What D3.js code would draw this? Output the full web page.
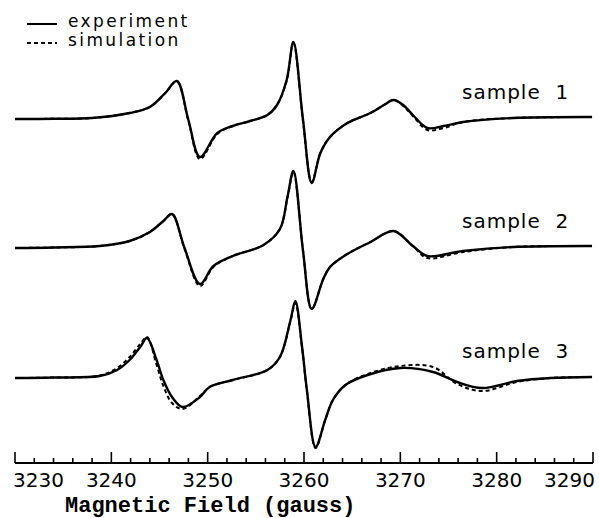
<!DOCTYPE html>
<html>
<head>
<meta charset="utf-8">
<script src="https://d3js.org/d3.v7.min.js"></script>
<style>
  body { margin: 0; background: #fff; }
  svg { display: block; }
</style>
</head>
<body>
<div id="chart"></div>
<script>
// field positions (gauss) and derivative intensity (arb. units, baseline = 0)
const field1 = [3230, 3234, 3238, 3241.9, 3244.0, 3245.6, 3246.8, 3248.0, 3249.2, 3251.0, 3252.6, 3254.4, 3256.2, 3257.2, 3258.2, 3258.9, 3259.9, 3260.8, 3261.7, 3262.7, 3264.5, 3266.9, 3268.3, 3269.3, 3270.3, 3271.3, 3272.8, 3274.5, 3276.5, 3281.7, 3289.9];
const exp1 = [0, 0.02, 0.1, 0.6, 1.2, 2.6, 3.8, -0.1, -3.8, -1.4, -0.7, -0.2, 0.4, 1.4, 3.9, 7.7, -0.1, -6.4, -3.4, -1.8, -0.4, 0.6, 1.4, 1.9, 1.4, 0.4, -0.9, -0.7, -0.3, 0.1, 0.2];
const sim1 = [0, 0.02, 0.1, 0.6, 1.2, 2.6, 3.8, -0.2, -4.0, -1.5, -0.7, -0.2, 0.4, 1.4, 3.8, 7.6, -0.2, -6.3, -3.4, -1.8, -0.4, 0.6, 1.4, 1.9, 1.3, 0.3, -1.1, -0.9, -0.3, 0.1, 0.2];

const field2 = [3230, 3234, 3238.8, 3241.9, 3244.0, 3245.4, 3246.3, 3247.6, 3249.2, 3250.6, 3252.6, 3255.8, 3257.5, 3258.3, 3258.9, 3259.9, 3260.8, 3262.0, 3262.7, 3264.5, 3266.9, 3269.3, 3271.3, 3272.8, 3276.5, 3281.7, 3289.9];
const exp2 = [0, 0.05, 0.2, 0.7, 1.6, 2.7, 3.4, 0.0, -3.6, -1.8, -0.8, 0.3, 1.9, 5.2, 7.7, -0.3, -6.1, -3.1, -1.9, -0.6, 0.6, 1.7, 0.2, -0.8, -0.3, 0.1, 0.2];
const sim2 = [0, 0.05, 0.2, 0.7, 1.6, 2.7, 3.4, -0.1, -3.8, -1.9, -0.8, 0.3, 1.9, 5.1, 7.6, -0.3, -6.1, -3.1, -1.9, -0.6, 0.6, 1.7, 0.2, -1.0, -0.4, 0.1, 0.2];

const field3 = [3230, 3234, 3238.8, 3240.6, 3241.9, 3243.0, 3243.7, 3244.7, 3245.4, 3246.3, 3247.4, 3249.2, 3250.2, 3252.6, 3256.2, 3257.5, 3258.6, 3259.1, 3259.8, 3260.3, 3261.2, 3262.2, 3263.0, 3264.3, 3266.6, 3270.0, 3273.4, 3275.9, 3278.5, 3282.1, 3285.6, 3289.9];
const exp3 = [0, 0.05, 0.2, 0.8, 1.8, 3.1, 4.0, 1.8, -0.2, -1.9, -2.9, -1.9, -0.9, -0.2, 0.8, 2.1, 5.8, 7.7, 3.1, -1.2, -6.9, -4.2, -2.2, -0.7, 0.3, 1.0, 0.6, -0.4, -1.0, -0.3, 0, 0.1];
const sim3 = [0, 0.05, 0.25, 1.0, 2.1, 3.4, 4.1, 1.3, -0.8, -2.5, -3.1, -1.8, -0.9, -0.2, 0.8, 2.1, 5.7, 7.5, 3.0, -1.3, -7.0, -4.2, -2.2, -0.7, 0.4, 1.2, 1.1, -0.6, -1.3, -0.4, 0, 0.1];

const sampleNames = ["sample  1", "sample  2", "sample  3"];
const offsets = [34.1, 21.2, 8.2];
const tickValues = [3230, 3240, 3250, 3260, 3270, 3280, 3290];

const samples = [
  { field: field1, exp: exp1, sim: sim1 },
  { field: field2, exp: exp2, sim: sim2 },
  { field: field3, exp: exp3, sim: sim3 }
];

const width = 599, height = 518;
const axisY = 463;

const svg = d3.select("#chart")
  .append("svg")
  .attr("width", width)
  .attr("height", height);

const x = d3.scaleLinear().domain([3230, 3290]).range([15, 593]);
const y = d3.scaleLinear().domain([0, 46]).range([460, 0]);

samples.forEach((s, i) => {
  const line = d3.line()
    .x((d, j) => x(s.field[j]))
    .y(d => y(d + offsets[i]))
    .curve(d3.curveCatmullRom.alpha(0.5));

  svg.append("path")
    .attr("d", line(s.sim))
    .attr("fill", "none")
    .attr("stroke", "#000")
    .attr("stroke-width", 2)
    .attr("stroke-dasharray", "4,3");

  svg.append("path")
    .attr("d", line(s.exp))
    .attr("fill", "none")
    .attr("stroke", "#000")
    .attr("stroke-width", 2.4)
    .attr("stroke-linejoin", "round");

  svg.append("text")
    .attr("x", 462)
    .attr("y", y(offsets[i]) - 20)
    .attr("font-family", "DejaVu Sans")
    .attr("font-size", 20)
    .attr("letter-spacing", 1)
    .style("white-space", "pre")
    .text(sampleNames[i]);
});

// axis with inward ticks
const axis = svg.append("g").attr("transform", `translate(0,${axisY})`);
axis.append("line")
  .attr("x1", x(3230)).attr("x2", x(3290))
  .attr("stroke", "#000").attr("stroke-width", 2);

axis.selectAll("line.minor")
  .data(d3.range(3230, 3291, 2))
  .enter().append("line")
  .attr("class", "minor")
  .attr("x1", d => x(d)).attr("x2", d => x(d))
  .attr("y1", 0)
  .attr("y2", d => (d % 10 === 0 ? -11 : -5))
  .attr("stroke", "#000")
  .attr("stroke-width", 1.6);

axis.selectAll("text.tick")
  .data(tickValues)
  .enter().append("text")
  .attr("class", "tick")
  .attr("x", (d, i) => i === 0 ? x(d) - 2 : i === tickValues.length - 1 ? x(d) + 2 : x(d))
  .attr("y", 24)
  .attr("text-anchor", (d, i) => i === 0 ? "start" : i === tickValues.length - 1 ? "end" : "middle")
  .attr("font-family", "DejaVu Sans")
  .attr("font-size", 20)
  .text(d => d);

svg.append("text")
  .attr("x", 65)
  .attr("y", 512)
  .attr("font-family", "Liberation Mono")
  .attr("font-weight", "bold")
  .attr("font-size", 22)
  .text("Magnetic Field (gauss)");

// legend
const legend = [
  { label: "experiment", dash: null, y: 27 },
  { label: "simulation", dash: "4,3", y: 46 }
];
legend.forEach(l => {
  svg.append("line")
    .attr("x1", 27).attr("x2", 57)
    .attr("y1", l.y - 3).attr("y2", l.y - 3)
    .attr("stroke", "#000")
    .attr("stroke-width", 2)
    .attr("stroke-dasharray", l.dash);
  svg.append("text")
    .attr("x", 68)
    .attr("y", l.y)
    .attr("font-family", "DejaVu Sans")
    .attr("font-size", 17)
    .attr("letter-spacing", 2.4)
    .text(l.label);
});
</script>
</body>
</html>
